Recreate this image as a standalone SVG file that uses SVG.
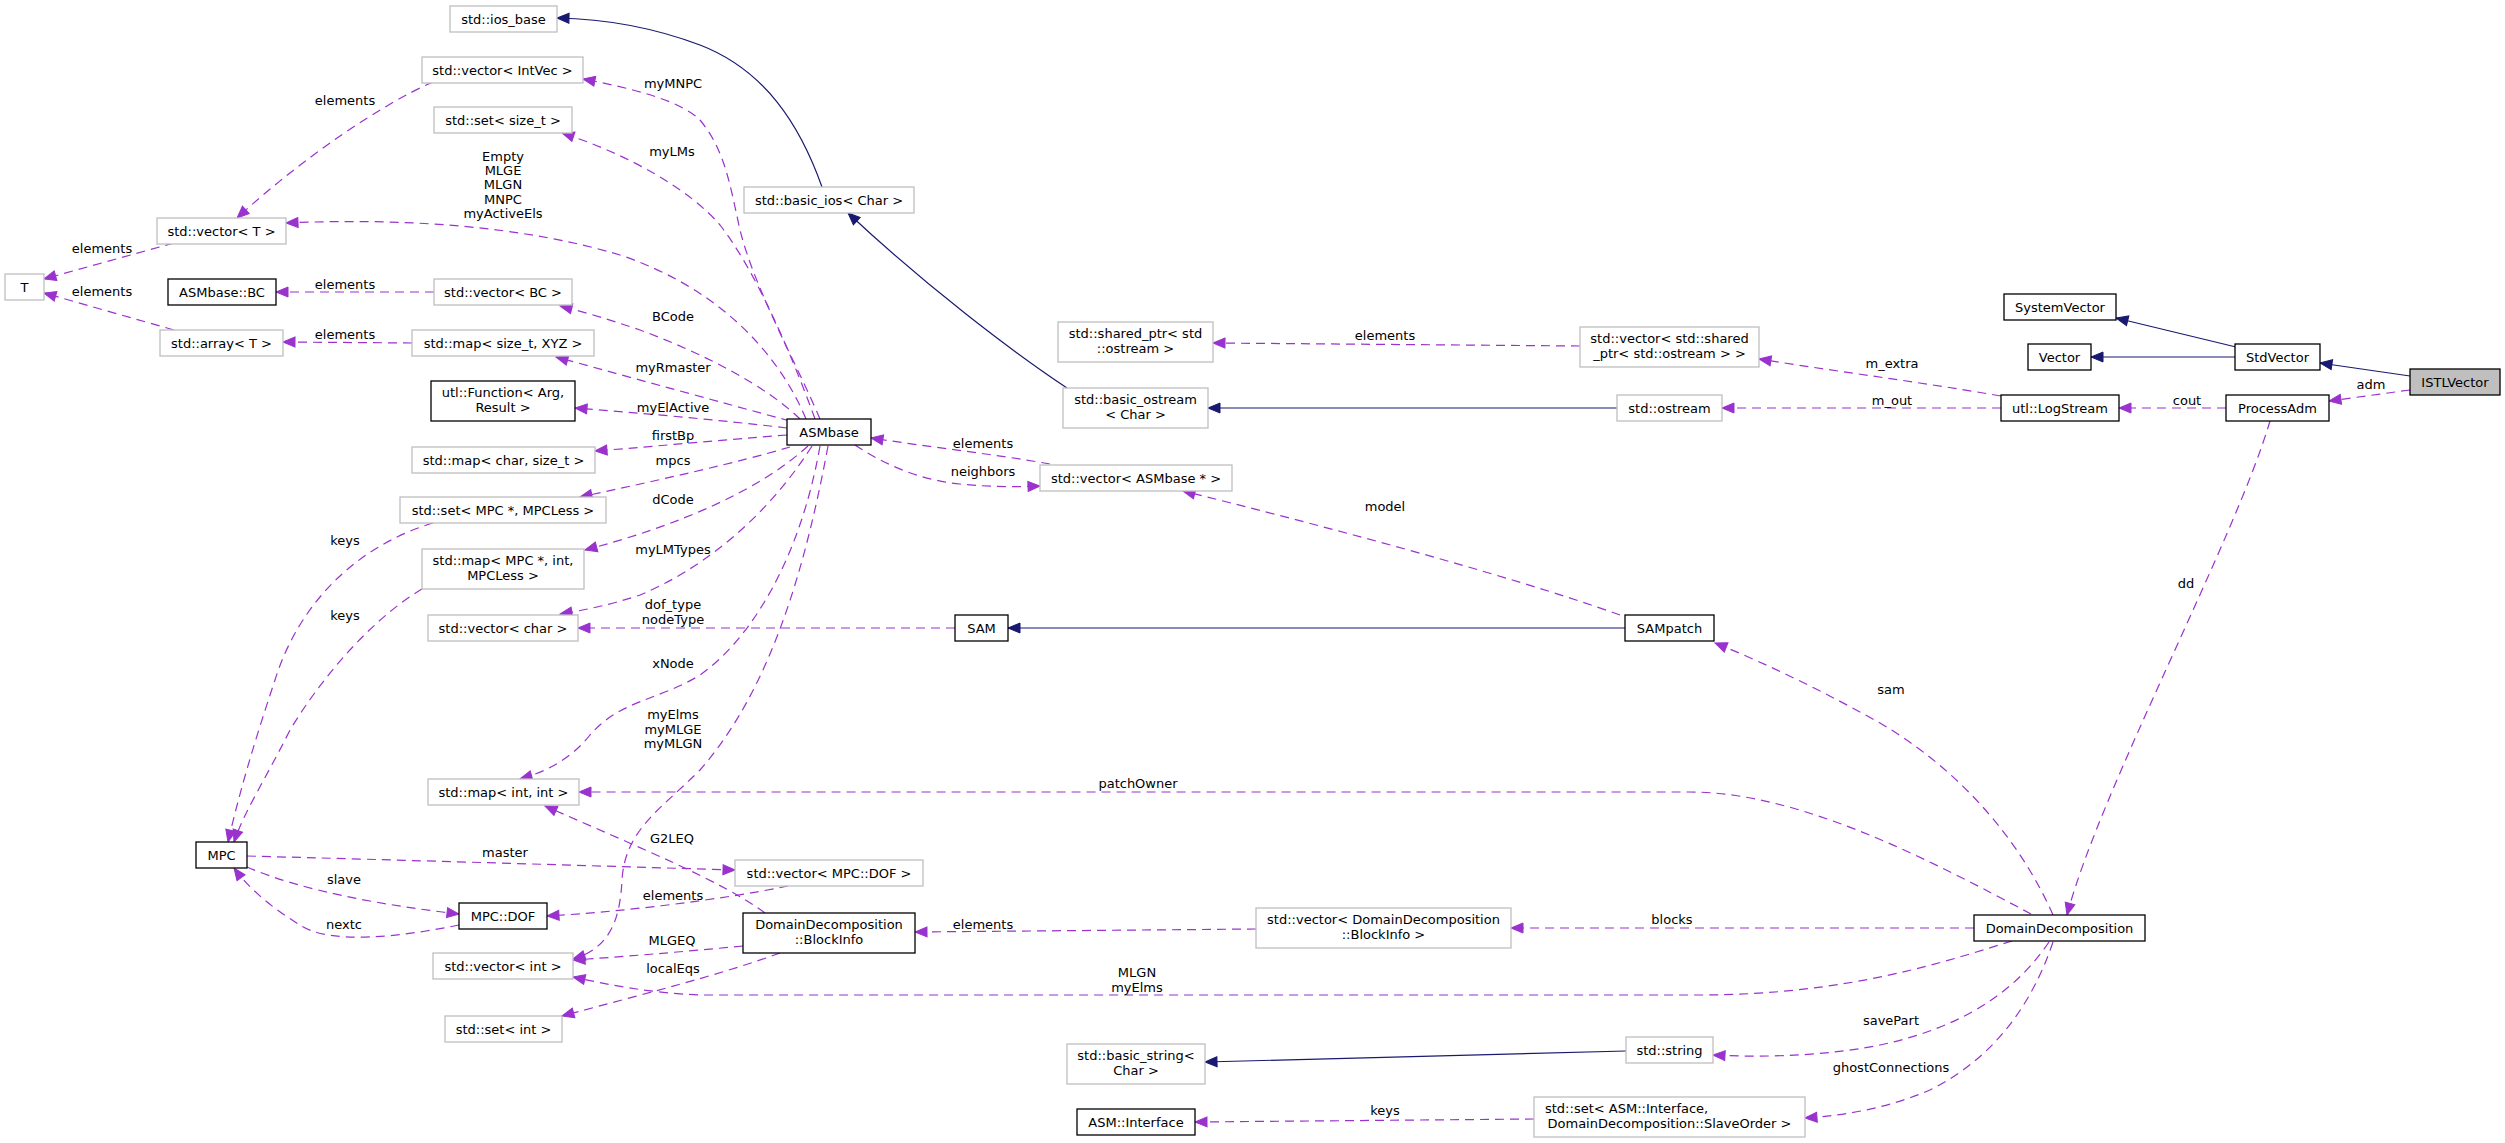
<svg xmlns="http://www.w3.org/2000/svg" width="2505" height="1143" viewBox="0 0 2505 1143">
<defs>
<style>
text{font-family:"DejaVu Sans","Liberation Sans",sans-serif;font-size:13px;fill:#000}
.nt{text-anchor:middle}
.g rect{fill:#fff;stroke:#bfbfbf;stroke-width:1.3}
.k rect{fill:#fff;stroke:#000;stroke-width:1.3}
.h rect{fill:#bfbfbf;stroke:#000;stroke-width:1.3}
.u{fill:none;stroke:#9a32cd;stroke-width:1.2;stroke-dasharray:9,6}
.i{fill:none;stroke:#191970;stroke-width:1.2}
.el{text-anchor:middle}
</style>
<marker id="ap" markerWidth="14" markerHeight="12" refX="12" refY="5" orient="auto" markerUnits="userSpaceOnUse" overflow="visible"><path d="M0,0 L12,5 L0,10 z" fill="#9a32cd" stroke="#9a32cd" stroke-width="1"/></marker>
<marker id="ab" markerWidth="14" markerHeight="12" refX="12" refY="5" orient="auto" markerUnits="userSpaceOnUse" overflow="visible"><path d="M0,0 L12,5 L0,10 z" fill="#191970" stroke="#191970" stroke-width="1"/></marker>
</defs>
<rect width="2505" height="1143" fill="#fff"/>
<g id="connectors">
<path class="i" marker-end="url(#ab)" d="M2236,347 L2116,318"/>
<path class="i" marker-end="url(#ab)" d="M2235,357 L2091,357"/>
<path class="i" marker-end="url(#ab)" d="M2410,376 L2320,363"/>
<path class="i" marker-end="url(#ab)" d="M822,187 C800,125 765,70 700,45 C660,30 610,19 557,18"/>
<path class="i" marker-end="url(#ab)" d="M1067,388 C1010,350 925,285 848,213"/>
<path class="i" marker-end="url(#ab)" d="M1617,408 L1208,408"/>
<path class="i" marker-end="url(#ab)" d="M1625,628 L1008,628"/>
<path class="i" marker-end="url(#ab)" d="M1626,1051 L1205,1062"/>
<path class="u" marker-end="url(#ap)" d="M820,419 C795,360 755,290 740,230 C730,185 725,150 700,120 C680,100 630,88 583,79"/>
<path class="u" marker-end="url(#ap)" d="M815,419 C790,350 755,270 720,225 C690,190 630,155 562,133"/>
<path class="u" marker-end="url(#ap)" d="M806,419 C775,345 710,285 620,255 C520,225 400,218 286,223"/>
<path class="u" marker-end="url(#ap)" d="M800,419 C765,385 700,352 640,330 C610,320 585,312 560,306"/>
<path class="u" marker-end="url(#ap)" d="M790,421 C720,402 640,380 556,357"/>
<path class="u" marker-end="url(#ap)" d="M787,428 C720,420 640,413 575,408"/>
<path class="u" marker-end="url(#ap)" d="M787,435 C720,440 660,446 595,451"/>
<path class="u" marker-end="url(#ap)" d="M790,447 C740,462 660,480 580,497"/>
<path class="u" marker-end="url(#ap)" d="M808,446 C760,490 680,525 585,550"/>
<path class="u" marker-end="url(#ap)" d="M812,446 C765,520 700,570 640,595 C610,605 585,610 560,614"/>
<path class="u" marker-end="url(#ap)" d="M955,628 L578,628"/>
<path class="u" marker-end="url(#ap)" d="M820,446 C800,560 750,640 700,675 C660,700 620,700 590,735 C570,760 545,772 520,779"/>
<path class="u" marker-end="url(#ap)" d="M828,446 C805,570 770,690 700,770 C660,810 625,830 622,880 C620,920 610,948 573,959"/>
<path class="u" marker-end="url(#ap)" d="M1050,464 C1000,455 930,447 871,438"/>
<path class="u" marker-end="url(#ap)" d="M855,445 C885,465 920,480 960,484 C990,487 1015,487 1040,486"/>
<path class="u" marker-end="url(#ap)" d="M1620,615 C1500,572 1300,520 1183,491"/>
<path class="u" marker-end="url(#ap)" d="M1580,346 L1213,343"/>
<path class="u" marker-end="url(#ap)" d="M2001,396 C1920,382 1840,372 1759,359"/>
<path class="u" marker-end="url(#ap)" d="M2001,408 L1722,408"/>
<path class="u" marker-end="url(#ap)" d="M2226,408 L2119,408"/>
<path class="u" marker-end="url(#ap)" d="M2410,390 L2329,401"/>
<path class="u" marker-end="url(#ap)" d="M2270,421 C2235,540 2100,790 2067,915"/>
<path class="u" marker-end="url(#ap)" d="M2053,915 C2020,840 1960,770 1880,723 C1830,695 1770,665 1715,643"/>
<path class="u" marker-end="url(#ap)" d="M2031,914 C1930,860 1800,792 1690,792 L579,792"/>
<path class="u" marker-end="url(#ap)" d="M1974,928 L1511,928"/>
<path class="u" marker-end="url(#ap)" d="M2012,941 C1950,960 1850,995 1700,995 L700,995 C650,993 610,985 573,977"/>
<path class="u" marker-end="url(#ap)" d="M2049,942 C2010,1000 1950,1030 1880,1045 C1830,1055 1770,1058 1713,1055"/>
<path class="u" marker-end="url(#ap)" d="M2053,942 C2030,1010 1990,1060 1930,1090 C1890,1107 1850,1115 1805,1118"/>
<path class="u" marker-end="url(#ap)" d="M1534,1119 L1195,1122"/>
<path class="u" marker-end="url(#ap)" d="M1256,929 L915,932"/>
<path class="u" marker-end="url(#ap)" d="M765,913 C720,880 640,848 545,806"/>
<path class="u" marker-end="url(#ap)" d="M743,946 C680,952 620,957 573,960"/>
<path class="u" marker-end="url(#ap)" d="M780,953 C720,975 640,995 562,1016"/>
<path class="u" marker-end="url(#ap)" d="M788,886 C720,900 620,912 547,916"/>
<path class="u" marker-end="url(#ap)" d="M247,856 C400,860 600,866 735,870"/>
<path class="u" marker-end="url(#ap)" d="M247,867 C300,890 380,905 459,914"/>
<path class="u" marker-end="url(#ap)" d="M459,925 C400,937 330,945 300,925 C275,910 250,890 234,868"/>
<path class="u" marker-end="url(#ap)" d="M433,523 C360,545 300,600 275,680 C255,740 240,790 228,842"/>
<path class="u" marker-end="url(#ap)" d="M422,589 C370,620 320,680 290,730 C265,780 245,810 234,842"/>
<path class="u" marker-end="url(#ap)" d="M174,243 L44,279"/>
<path class="u" marker-end="url(#ap)" d="M174,330 L44,293"/>
<path class="u" marker-end="url(#ap)" d="M433,82 C380,105 300,160 237,218"/>
<path class="u" marker-end="url(#ap)" d="M434,292 L276,292"/>
<path class="u" marker-end="url(#ap)" d="M412,343 L283,342"/>
<g class="el">
<text x="345" y="105">elements</text>
<text x="673" y="88">myMNPC</text>
<text x="672" y="156">myLMs</text>
<text x="503" y="161">Empty</text>
<text x="503" y="175">MLGE</text>
<text x="503" y="189">MLGN</text>
<text x="503" y="204">MNPC</text>
<text x="503" y="218">myActiveEls</text>
<text x="102" y="253">elements</text>
<text x="102" y="296">elements</text>
<text x="345" y="289">elements</text>
<text x="345" y="339">elements</text>
<text x="673" y="321">BCode</text>
<text x="673" y="372">myRmaster</text>
<text x="673" y="412">myElActive</text>
<text x="673" y="440">firstBp</text>
<text x="673" y="465">mpcs</text>
<text x="673" y="504">dCode</text>
<text x="673" y="554">myLMTypes</text>
<text x="345" y="545">keys</text>
<text x="345" y="620">keys</text>
<text x="673" y="609">dof_type</text>
<text x="673" y="624">nodeType</text>
<text x="673" y="668">xNode</text>
<text x="673" y="719">myElms</text>
<text x="673" y="734">myMLGE</text>
<text x="673" y="748">myMLGN</text>
<text x="672" y="843">G2LEQ</text>
<text x="505" y="857">master</text>
<text x="344" y="884">slave</text>
<text x="344" y="929">nextc</text>
<text x="673" y="900">elements</text>
<text x="672" y="945">MLGEQ</text>
<text x="673" y="973">localEqs</text>
<text x="983" y="448">elements</text>
<text x="983" y="476">neighbors</text>
<text x="1138" y="788">patchOwner</text>
<text x="983" y="929">elements</text>
<text x="1137" y="977">MLGN</text>
<text x="1137" y="992">myElms</text>
<text x="1385" y="340">elements</text>
<text x="1892" y="368">m_extra</text>
<text x="1892" y="405">m_out</text>
<text x="1385" y="511">model</text>
<text x="1891" y="694">sam</text>
<text x="1672" y="924">blocks</text>
<text x="1891" y="1025">savePart</text>
<text x="1891" y="1072">ghostConnections</text>
<text x="1385" y="1115">keys</text>
<text x="2371" y="389">adm</text>
<text x="2187" y="405">cout</text>
<text x="2186" y="588">dd</text>
</g>
</g>
<g id="n_ios_base" class="g"><rect x="450" y="6" width="107" height="26"/><text class="nt" x="503.5" y="23.5">std::ios_base</text></g>
<g id="n_vec_intvec" class="g"><rect x="422" y="57" width="161" height="26"/><text class="nt" x="502.5" y="74.5">std::vector&lt; IntVec &gt;</text></g>
<g id="n_set_size_t" class="g"><rect x="434" y="107" width="138" height="26"/><text class="nt" x="503" y="124.5">std::set&lt; size_t &gt;</text></g>
<g id="n_vec_T" class="g"><rect x="157" y="218" width="129" height="26"/><text class="nt" x="221.5" y="235.5">std::vector&lt; T &gt;</text></g>
<g id="n_T" class="g"><rect x="5" y="274" width="39" height="26"/><text class="nt" x="24.5" y="291.5">T</text></g>
<g id="n_asmbase_bc" class="k"><rect x="168" y="279" width="108" height="26"/><text class="nt" x="222" y="296.5">ASMbase::BC</text></g>
<g id="n_vec_bc" class="g"><rect x="434" y="279" width="138" height="26"/><text class="nt" x="503" y="296.5">std::vector&lt; BC &gt;</text></g>
<g id="n_array_T" class="g"><rect x="160" y="330" width="123" height="26"/><text class="nt" x="221.5" y="347.5">std::array&lt; T &gt;</text></g>
<g id="n_map_size_xyz" class="g"><rect x="412" y="330" width="182" height="26"/><text class="nt" x="503" y="347.5">std::map&lt; size_t, XYZ &gt;</text></g>
<g id="n_utl_function" class="k"><rect x="431" y="381" width="144" height="40"/><text class="nt" x="503" y="397">utl::Function&lt; Arg,</text><text class="nt" x="503" y="412">Result &gt;</text></g>
<g id="n_map_char" class="g"><rect x="412" y="447" width="183" height="26"/><text class="nt" x="503.5" y="464.5">std::map&lt; char, size_t &gt;</text></g>
<g id="n_set_mpc" class="g"><rect x="400" y="497" width="206" height="26"/><text class="nt" x="503" y="514.5">std::set&lt; MPC *, MPCLess &gt;</text></g>
<g id="n_map_mpc" class="g"><rect x="422" y="549" width="162" height="40"/><text class="nt" x="503" y="565">std::map&lt; MPC *, int,</text><text class="nt" x="503" y="580">MPCLess &gt;</text></g>
<g id="n_vec_char" class="g"><rect x="428" y="615" width="150" height="26"/><text class="nt" x="503" y="632.5">std::vector&lt; char &gt;</text></g>
<g id="n_map_int" class="g"><rect x="428" y="779" width="151" height="26"/><text class="nt" x="503.5" y="796.5">std::map&lt; int, int &gt;</text></g>
<g id="n_mpc" class="k"><rect x="196" y="842" width="51" height="26"/><text class="nt" x="221.5" y="859.5">MPC</text></g>
<g id="n_mpc_dof" class="k"><rect x="459" y="903" width="88" height="26"/><text class="nt" x="503" y="920.5">MPC::DOF</text></g>
<g id="n_vec_int" class="g"><rect x="433" y="953" width="140" height="26"/><text class="nt" x="503" y="970.5">std::vector&lt; int &gt;</text></g>
<g id="n_set_int" class="g"><rect x="445" y="1016" width="117" height="26"/><text class="nt" x="503.5" y="1033.5">std::set&lt; int &gt;</text></g>
<g id="n_basic_ios" class="g"><rect x="744" y="187" width="170" height="26"/><text class="nt" x="829" y="204.5">std::basic_ios&lt; Char &gt;</text></g>
<g id="n_asmbase" class="k"><rect x="787" y="419" width="84" height="26"/><text class="nt" x="829" y="436.5">ASMbase</text></g>
<g id="n_vec_asmbase" class="g"><rect x="1040" y="465" width="192" height="26"/><text class="nt" x="1136" y="482.5">std::vector&lt; ASMbase * &gt;</text></g>
<g id="n_sam" class="k"><rect x="955" y="615" width="53" height="26"/><text class="nt" x="981.5" y="632.5">SAM</text></g>
<g id="n_vec_mpcdof" class="g"><rect x="735" y="860" width="188" height="26"/><text class="nt" x="829" y="877.5">std::vector&lt; MPC::DOF &gt;</text></g>
<g id="n_blockinfo" class="k"><rect x="743" y="913" width="172" height="40"/><text class="nt" x="829" y="929">DomainDecomposition</text><text class="nt" x="829" y="944">::BlockInfo</text></g>
<g id="n_shared_ptr" class="g"><rect x="1058" y="322" width="155" height="40"/><text class="nt" x="1135.5" y="338">std::shared_ptr&lt; std</text><text class="nt" x="1135.5" y="353">::ostream &gt;</text></g>
<g id="n_basic_ostream" class="g"><rect x="1063" y="388" width="145" height="40"/><text class="nt" x="1135.5" y="404">std::basic_ostream</text><text class="nt" x="1135.5" y="419">&lt; Char &gt;</text></g>
<g id="n_basic_string" class="g"><rect x="1067" y="1044" width="138" height="40"/><text class="nt" x="1136" y="1060">std::basic_string&lt;</text><text class="nt" x="1136" y="1075">Char &gt;</text></g>
<g id="n_asm_interface" class="k"><rect x="1077" y="1109" width="118" height="26"/><text class="nt" x="1136" y="1126.5">ASM::Interface</text></g>
<g id="n_vec_shared" class="g"><rect x="1580" y="327" width="179" height="40"/><text class="nt" x="1669.5" y="343">std::vector&lt; std::shared</text><text class="nt" x="1669.5" y="358">_ptr&lt; std::ostream &gt; &gt;</text></g>
<g id="n_ostream" class="g"><rect x="1617" y="395" width="105" height="26"/><text class="nt" x="1669.5" y="412.5">std::ostream</text></g>
<g id="n_sampatch" class="k"><rect x="1625" y="615" width="89" height="26"/><text class="nt" x="1669.5" y="632.5">SAMpatch</text></g>
<g id="n_vec_blockinfo" class="g"><rect x="1256" y="908" width="255" height="40"/><text class="nt" x="1383.5" y="924">std::vector&lt; DomainDecomposition</text><text class="nt" x="1383.5" y="939">::BlockInfo &gt;</text></g>
<g id="n_string" class="g"><rect x="1626" y="1037" width="87" height="26"/><text class="nt" x="1669.5" y="1054.5">std::string</text></g>
<g id="n_set_asm" class="g"><rect x="1534" y="1097" width="271" height="40"/><text x="1545" y="1113">std::set&lt; ASM::Interface,</text><text class="nt" x="1669.5" y="1128">DomainDecomposition::SlaveOrder &gt;</text></g>
<g id="n_systemvector" class="k"><rect x="2004" y="294" width="112" height="26"/><text class="nt" x="2060" y="311.5">SystemVector</text></g>
<g id="n_vector" class="k"><rect x="2028" y="344" width="63" height="26"/><text class="nt" x="2059.5" y="361.5">Vector</text></g>
<g id="n_stdvector" class="k"><rect x="2235" y="344" width="85" height="26"/><text class="nt" x="2277.5" y="361.5">StdVector</text></g>
<g id="n_istlvector" class="h"><rect x="2410" y="369" width="90" height="26"/><text class="nt" x="2455" y="386.5">ISTLVector</text></g>
<g id="n_logstream" class="k"><rect x="2001" y="395" width="118" height="26"/><text class="nt" x="2060" y="412.5">utl::LogStream</text></g>
<g id="n_processadm" class="k"><rect x="2226" y="395" width="103" height="26"/><text class="nt" x="2277.5" y="412.5">ProcessAdm</text></g>
<g id="n_dd" class="k"><rect x="1974" y="915" width="171" height="26"/><text class="nt" x="2059.5" y="932.5">DomainDecomposition</text></g>
</svg>
